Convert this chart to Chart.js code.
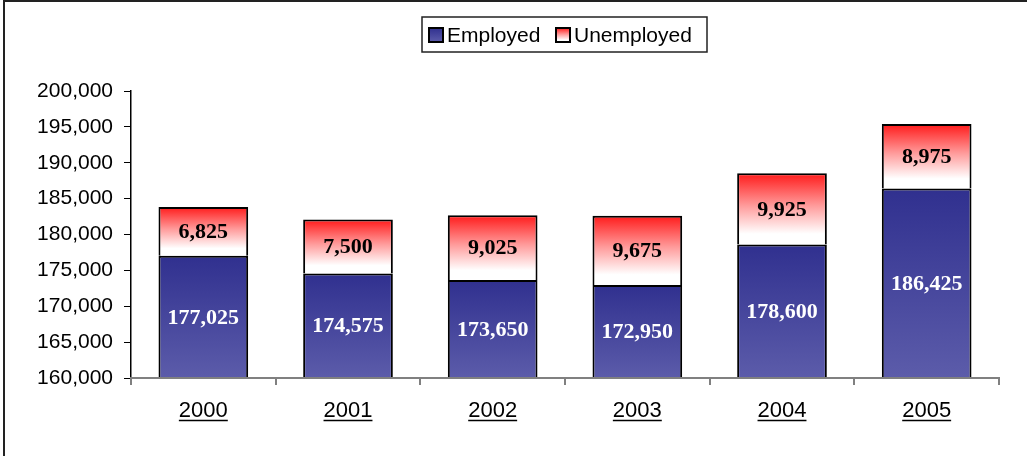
<!DOCTYPE html>
<html>
<head>
<meta charset="utf-8">
<script src="https://cdn.jsdelivr.net/npm/chart.js@4/dist/chart.umd.min.js"></script>
<style>
  html, body { margin: 0; padding: 0; background: #fff; }
  #wrap { position: relative; width: 1027px; height: 456px; }
  #frame { position: absolute; left: 3px; top: 0; width: 1024px; height: 456px;
           border-top: 2px solid #222; border-left: 2px solid #222; box-sizing: border-box; pointer-events: none; }
</style>
</head>
<body>
<div id="wrap">
  <canvas id="chart" width="1027" height="456"></canvas>
  <div id="frame"></div>
</div>
<script>
const years = ["2000", "2001", "2002", "2003", "2004", "2005"];
const employed = [177025, 174575, 173650, 172950, 178600, 186425];
const unemployed = [6825, 7500, 9025, 9675, 9925, 8975];
const yMin = 160000, yMax = 200000, yStep = 5000;

const fmt = v => v.toLocaleString("en-US");

// vertical gradient for one bar segment
function barGradient(ctx, top, bottom, stops) {
    const g = ctx.createLinearGradient(0, top, 0, bottom);
    stops.forEach(s => g.addColorStop(s[0], s[1]));
    return g;
}
const blueStops = [[0, "#30308f"], [1, "#5c5caa"]];
const redStops = [[0, "#ff1a1a"], [0.45, "#ff9a9a"], [0.85, "#ffffff"], [1, "#ffffff"]];

function employedFill(context) {
    const chart = context.chart;
    if (!chart.chartArea || context.dataIndex === undefined) return "#3f3f9c";
    const top = chart.scales.y.getPixelForValue(employed[context.dataIndex]);
    return barGradient(chart.ctx, top, chart.chartArea.bottom, blueStops);
}

function unemployedFill(context) {
    const chart = context.chart;
    if (!chart.chartArea || context.dataIndex === undefined) return "#ff8080";
    const y = chart.scales.y;
    const i = context.dataIndex;
    const bottom = y.getPixelForValue(employed[i]);
    const top = y.getPixelForValue(employed[i] + unemployed[i]);
    return barGradient(chart.ctx, top, bottom, redStops);
}

// value labels centred in each segment
const valueLabels = {
    id: "valueLabels",
    afterDatasetsDraw(chart) {
        const ctx = chart.ctx;
        const bottom = chart.chartArea.bottom;
        ctx.save();
        ctx.font = "bold 22px 'Liberation Serif', 'Times New Roman', serif";
        ctx.textAlign = "center";
        ctx.textBaseline = "middle";
        chart.data.datasets.forEach((ds, di) => {
            const meta = chart.getDatasetMeta(di);
            meta.data.forEach((bar, i) => {
                const p = bar.getProps(["x", "y", "base"], true);
                const base = Math.min(p.base, bottom);
                ctx.fillStyle = di === 0 ? "#ffffff" : "#000000";
                ctx.fillText(fmt(ds.data[i]), p.x, (p.y + base) / 2 + 1);
            });
        });
        ctx.restore();
    }
};

// boxed legend and underlined year labels
const extras = {
    id: "extras",
    afterDraw(chart) {
        const ctx = chart.ctx;
        ctx.save();
        // legend
        ctx.fillStyle = "#fff";
        ctx.strokeStyle = "#222";
        ctx.lineWidth = 1.5;
        ctx.fillRect(422, 17, 285, 35);
        ctx.strokeRect(422, 17, 285, 35);
        const items = [
            {x: 429, text: chart.data.datasets[0].label, stops: blueStops},
            {x: 556, text: chart.data.datasets[1].label, stops: redStops}
        ];
        ctx.font = "21px 'Liberation Sans', Arial, sans-serif";
        ctx.textBaseline = "middle";
        ctx.textAlign = "left";
        items.forEach(it => {
            ctx.fillStyle = barGradient(ctx, 28, 42, it.stops);
            ctx.fillRect(it.x, 28, 14, 14);
            ctx.lineWidth = 2;
            ctx.strokeStyle = "#000";
            ctx.strokeRect(it.x, 28, 14, 14);
            ctx.fillStyle = "#000";
            ctx.fillText(it.text, it.x + 18, 36);
        });
        // underline x labels
        const xs = chart.scales.x;
        ctx.font = "22px 'Liberation Sans', Arial, sans-serif";
        ctx.lineWidth = 1.5;
        ctx.strokeStyle = "#000";
        years.forEach((t, i) => {
            const cx = xs.getPixelForTick(i);
            const w = ctx.measureText(t).width;
            ctx.beginPath();
            ctx.moveTo(cx - w / 2, 420.5);
            ctx.lineTo(cx + w / 2, 420.5);
            ctx.stroke();
        });
        ctx.restore();
    }
};

new Chart(document.getElementById("chart"), {
    type: "bar",
    data: {
        labels: years,
        datasets: [
            {
                label: "Employed",
                data: employed,
                backgroundColor: employedFill,
                borderColor: "#000",
                borderWidth: 2,
                borderSkipped: false
            },
            {
                label: "Unemployed",
                data: unemployed,
                backgroundColor: unemployedFill,
                borderColor: "#000",
                borderWidth: 2,
                borderSkipped: "bottom"
            }
        ]
    },
    options: {
        responsive: false,
        animation: false,
        devicePixelRatio: 1,
        layout: { padding: { top: 91, left: 0, right: 28, bottom: 0 } },
        datasets: { bar: { categoryPercentage: 1, barPercentage: 0.62 } },
        plugins: {
            legend: { display: false },
            tooltip: { enabled: false }
        },
        scales: {
            x: {
                stacked: true,
                afterFit: s => { s.height = 78; },
                border: { color: "#808080", width: 2, z: 1 },
                grid: { offset: true, drawOnChartArea: false, tickLength: 7, color: "#808080", lineWidth: 2 },
                ticks: {
                    color: "#000",
                    padding: 13,
                    font: { family: "'Liberation Sans', Arial, sans-serif", size: 22 }
                }
            },
            y: {
                stacked: true,
                min: yMin,
                max: yMax,
                afterFit: s => { s.width = 131; },
                border: { color: "#000", width: 1.5 },
                grid: { drawOnChartArea: false, tickLength: 7, color: "#000" },
                ticks: {
                    stepSize: yStep,
                    color: "#000",
                    padding: 11,
                    callback: v => fmt(v),
                    font: { family: "'Liberation Sans', Arial, sans-serif", size: 21 }
                }
            }
        }
    },
    plugins: [valueLabels, extras]
});
</script>
</body>
</html>
